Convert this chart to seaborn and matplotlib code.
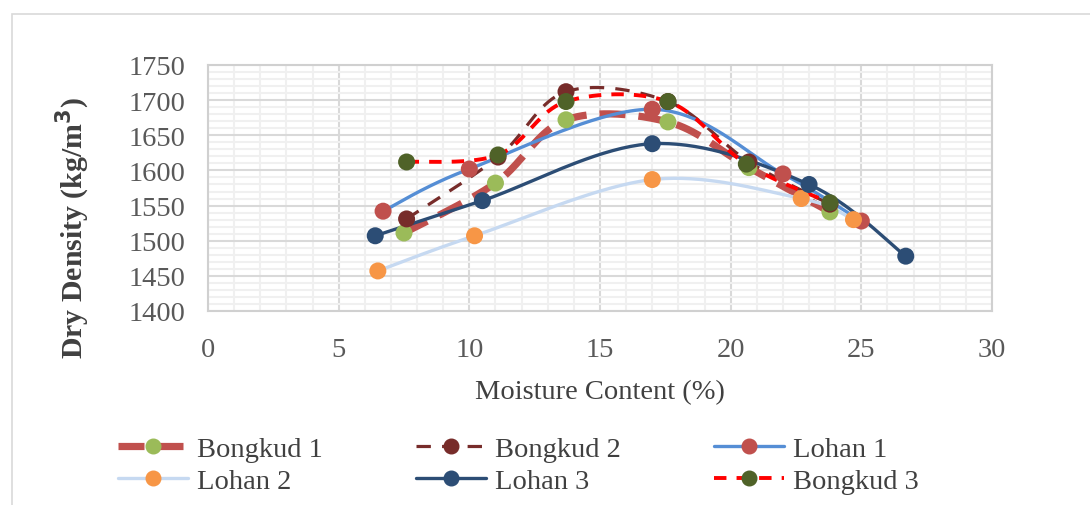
import numpy as np
import pandas as pd
import matplotlib
matplotlib.use("Agg")
import matplotlib.pyplot as plt
import seaborn as sns
from matplotlib.lines import Line2D
from matplotlib.patches import Rectangle
from matplotlib.ticker import MultipleLocator

# Compaction test results (moisture %, dry density kg/m3)
bongkud1_x = [7.5, 11.0, 13.7, 17.6, 20.7, 23.8]
bongkud1_y = [1511, 1582, 1672, 1669, 1604, 1541]
bongkud2_x = [7.6, 11.1, 13.7, 17.6, 20.7, 23.8]
bongkud2_y = [1531, 1619, 1712, 1698, 1612, 1552]
bongkud3_x = [7.6, 11.1, 13.7, 17.6, 20.6, 23.8]
bongkud3_y = [1612, 1622, 1698, 1698, 1609, 1554]
lohan1_x = [6.7, 10.0, 17.0, 22.0, 25.0]
lohan1_y = [1542, 1602, 1687, 1595, 1528]
lohan2_x = [6.5, 10.2, 17.0, 22.7, 24.7]
lohan2_y = [1457, 1507, 1587, 1560, 1530]
lohan3_x = [6.4, 10.5, 17.0, 23.0, 26.7]
lohan3_y = [1507, 1557, 1638, 1580, 1478]

series_names = ["Bongkud 1", "Bongkud 2", "Lohan 1", "Lohan 2", "Lohan 3", "Bongkud 3"]
series_x = [bongkud1_x, bongkud2_x, lohan1_x, lohan2_x, lohan3_x, bongkud3_x]
series_y = [bongkud1_y, bongkud2_y, lohan1_y, lohan2_y, lohan3_y, bongkud3_y]

# line colour, marker colour, line width, dash pattern
styles = {
    "Bongkud 1": ("#C0504D", "#9BBB59", 5.2, (0, (3.6, 1.8))),
    "Bongkud 2": ("#772C2A", "#772C2A", 2.3, (0, (4.5, 3.5))),
    "Lohan 1": ("#558ED5", "#C0504D", 2.4, "-"),
    "Lohan 2": ("#C6D9F1", "#F79646", 2.4, "-"),
    "Lohan 3": ("#2C4D75", "#2C4D75", 2.4, "-"),
    "Bongkud 3": ("#FF0000", "#4F6228", 2.8, (0, (3.2, 2.6))),
}


def smooth(xs, ys, n=40):
    """Excel-style smoothed line: Bezier segments with Catmull-Rom control points."""
    p = np.column_stack([xs, ys]).astype(float)
    p_ext = np.vstack([p[0], p, p[-1]])
    out = []
    t = np.linspace(0, 1, n)[:, None]
    for i in range(1, len(p_ext) - 2):
        p0, p1, p2, p3 = p_ext[i - 1], p_ext[i], p_ext[i + 1], p_ext[i + 2]
        c1 = p1 + (p2 - p0) / 6
        c2 = p2 - (p3 - p1) / 6
        seg = ((1 - t) ** 3) * p1 + 3 * ((1 - t) ** 2) * t * c1 + 3 * (1 - t) * t ** 2 * c2 + t ** 3 * p2
        out.append(seg if i == 1 else seg[1:])
    return np.vstack(out)


sns.set_theme(style="white")
plt.rcParams['font.family'] = ['Liberation Serif', 'DejaVu Serif']

fig = plt.figure(figsize=(10.9, 5.06), dpi=100)
ax = fig.add_axes([0.1908, 0.3834, 0.7193, 0.4862])

fig.patches.append(Rectangle((12 / 1090, -0.01), 1.0, 1 - 15 / 506 + 0.01,
                             transform=fig.transFigure, fill=False,
                             edgecolor="#D9D9D9", linewidth=1.2, zorder=0))

handles = {}
for name, xs, ys in zip(series_names, series_x, series_y):
    lc, mc, lw, ls = styles[name]
    curve = smooth(xs, ys)
    df = pd.DataFrame({"x": curve[:, 0], "y": curve[:, 1]})
    sns.lineplot(data=df, x="x", y="y", sort=False, color=lc, linewidth=lw,
                 linestyle=ls, ax=ax, zorder=3)
    pts = pd.DataFrame({"x": xs, "y": ys})
    sns.scatterplot(data=pts, x="x", y="y", color=mc, s=150, edgecolor="none",
                    ax=ax, zorder=4)
    handles[name] = Line2D([], [], color=lc, linewidth=lw, linestyle=ls,
                           marker="o", markersize=10.5, markerfacecolor=mc,
                           markeredgecolor=mc, label=name)

ax.set_xlim(0, 30)
ax.set_ylim(1400, 1750)
ax.xaxis.set_major_locator(MultipleLocator(5))
ax.xaxis.set_minor_locator(MultipleLocator(1))
ax.yaxis.set_major_locator(MultipleLocator(50))
ax.yaxis.set_minor_locator(MultipleLocator(10))
ax.grid(which="major", color="#D9D9D9", linewidth=1.5, zorder=0)
ax.grid(which="minor", color="#F0F0F0", linewidth=1.5, zorder=0)
ax.set_axisbelow(True)
for sp in ax.spines.values():
    sp.set_color("#D0D0D0")
    sp.set_linewidth(1.5)
ax.tick_params(axis="y", which="both", length=0, labelsize=20.5, pad=16, labelcolor="#595959")
ax.tick_params(axis="x", which="both", length=0, labelsize=20.5, pad=19, labelcolor="#595959")

ax.set_xlabel("Moisture Content (%)", fontsize=20.5, color="#404040", labelpad=12)
ax.set_ylabel("Dry Density (kg/m$^\\mathbf{3}$)", fontsize=21.5, fontweight="bold",
              color="#404040")
ax.yaxis.set_label_coords(-0.148, 0.34)

# row-major legend order as in the original (matplotlib fills columns first)
legend_order = ["Bongkud 1", "Lohan 2", "Bongkud 2", "Lohan 3", "Lohan 1", "Bongkud 3"]
fig.legend(handles=[handles[k] for k in legend_order], loc="upper left",
           bbox_to_anchor=(0.085, 0.186), ncol=3, frameon=False, fontsize=20.5,
           handlelength=2.45, columnspacing=3.3, labelspacing=0.2,
           handletextpad=0.3, labelcolor="#404040")

fig.savefig("out.png", dpi=100)
